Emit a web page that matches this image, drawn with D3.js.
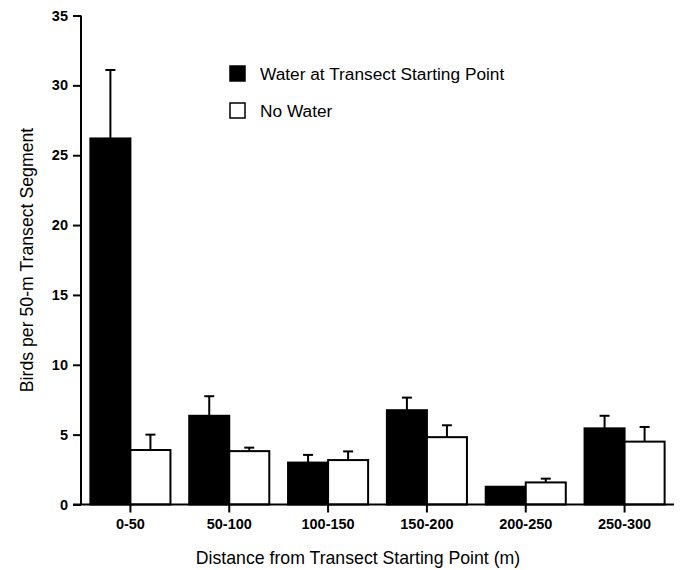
<!DOCTYPE html>
<html>
<head>
<meta charset="utf-8">
<script src="https://cdn.jsdelivr.net/npm/d3@7"></script>
<style>
html,body{margin:0;padding:0;background:#fff;}
svg{display:block;font-family:"Liberation Sans",Arial,sans-serif;}
</style>
</head>
<body>
<svg id="chart" width="680" height="570"></svg>
<script>
const categories = ["0-50","50-100","100-150","150-200","200-250","250-300"];
const seriesNames = ["Water at Transect Starting Point","No Water"];
const waterMeans = [26.2, 6.35, 3.0, 6.75, 1.27, 5.45];
const waterErrors = [4.9, 1.4, 0.55, 0.9, 0, 0.9];
const noWaterMeans = [3.9, 3.82, 3.18, 4.82, 1.58, 4.5];
const noWaterErrors = [1.1, 0.25, 0.62, 0.85, 0.27, 1.05];
const yTicks = [0,5,10,15,20,25,30,35];
const colors = ["#000000","#ffffff"];

const svg = d3.select("#chart");
const x = d3.scaleBand().domain(categories).range([81, 674]).paddingInner(0.19).paddingOuter(0.095);
const xs = d3.scaleBand().domain(seriesNames).range([0, x.bandwidth()]);
const y = d3.scaleLinear().domain([0, 35]).range([504.5, 15.5]);

const rows = categories.map((c, i) => [
  {cat: c, s: seriesNames[0], v: waterMeans[i], e: waterErrors[i], col: colors[0]},
  {cat: c, s: seriesNames[1], v: noWaterMeans[i], e: noWaterErrors[i], col: colors[1]}
]).flat();

// error bars (upward only)
const eb = svg.append("g").attr("stroke", "#000").attr("stroke-width", 2);
rows.filter(d => d.e > 0).forEach(d => {
  const cx = x(d.cat) + xs(d.s) + xs.bandwidth() / 2;
  eb.append("line").attr("x1", cx).attr("x2", cx).attr("y1", y(d.v)).attr("y2", y(d.v + d.e));
  eb.append("line").attr("x1", cx - 5).attr("x2", cx + 5).attr("y1", y(d.v + d.e)).attr("y2", y(d.v + d.e));
});

// bars
svg.append("g").selectAll("rect").data(rows).join("rect")
  .attr("x", d => x(d.cat) + xs(d.s))
  .attr("y", d => y(d.v))
  .attr("width", xs.bandwidth())
  .attr("height", d => y(0) - y(d.v))
  .attr("fill", d => d.col)
  .attr("stroke", "#000")
  .attr("stroke-width", 2);

// y axis
const yAxis = svg.append("g").attr("transform", "translate(81,0)")
  .call(d3.axisLeft(y).tickValues(yTicks).tickSize(8).tickPadding(5).tickFormat(d3.format("d")));
yAxis.select(".domain").attr("d", `M0,${y(35)}V${y(0)}`).attr("stroke-width", 2);
yAxis.selectAll(".tick line").attr("stroke-width", 2);
yAxis.selectAll("text").attr("font-size", 14.5).attr("font-weight", "bold").attr("fill", "#000")
  .attr("font-family", "Liberation Sans, Arial, sans-serif");

// x axis
const xAxis = svg.append("g").attr("transform", `translate(0,${y(0)})`)
  .call(d3.axisBottom(x).tickSize(8).tickPadding(6).tickSizeOuter(0));
xAxis.selectAll(".tick").attr("transform", d => `translate(${x(d) + x.bandwidth() / 2},0)`);
xAxis.select(".domain").attr("d", "M73,0H674").attr("stroke-width", 2);
xAxis.selectAll(".tick line").attr("stroke-width", 2);
xAxis.selectAll("text").attr("font-size", 14.5).attr("font-weight", "bold").attr("fill", "#000")
  .attr("font-family", "Liberation Sans, Arial, sans-serif");

// axis titles
svg.append("text").attr("x", 358).attr("y", 564).attr("text-anchor", "middle")
  .attr("font-size", 17.7).text("Distance from Transect Starting Point (m)");
svg.append("text").attr("transform", "translate(33,260) rotate(-90)").attr("text-anchor", "middle")
  .attr("font-size", 17.7).text("Birds per 50-m Transect Segment");

// legend
const lg = svg.append("g");
seriesNames.forEach((s, i) => {
  const yy = 66 + i * 37;
  lg.append("rect").attr("x", 230).attr("y", yy).attr("width", 15).attr("height", 15)
    .attr("fill", colors[i]).attr("stroke", "#000").attr("stroke-width", 1.5);
  lg.append("text").attr("x", 260).attr("y", yy + 13.5).attr("font-size", 17.3).text(s);
});
</script>
</body>
</html>
